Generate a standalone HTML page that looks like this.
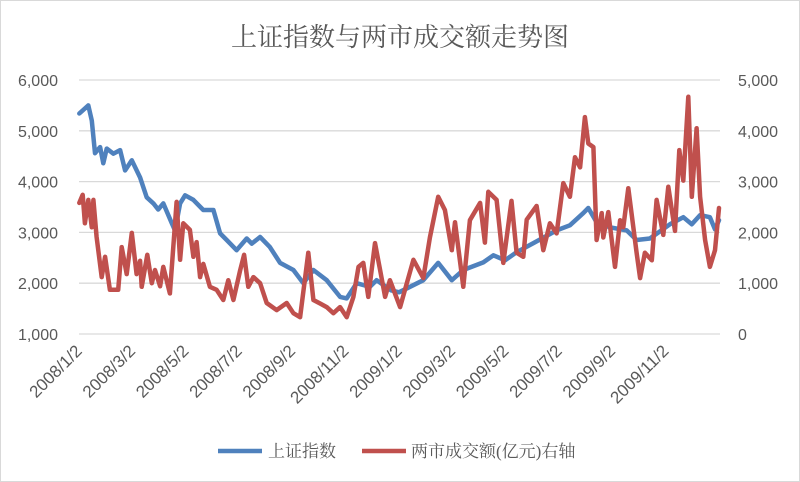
<!DOCTYPE html>
<html><head><meta charset="utf-8"><style>
html,body{margin:0;padding:0;background:#fff;}
svg{display:block;font-family:"Liberation Sans","Noto Sans CJK SC",sans-serif;}
.serif{font-family:"Liberation Serif","Noto Serif CJK SC",serif;}
</style></head><body>
<svg id="chart" width="800" height="482" viewBox="0 0 800 482">
<rect x="0.5" y="0.5" width="799" height="481" fill="#fff" stroke="#d9d9d9"/>
<text class="serif" x="400" y="46" text-anchor="middle" font-size="26" fill="#595959">上证指数与两市成交额走势图</text>
<g id="grid"></g><g id="yl"></g><g id="yr"></g><g id="xl"></g><g id="series"></g>
<g>
<line x1="218" y1="451" x2="262" y2="451" stroke="#4f81bd" stroke-width="4.5"/>
<text class="serif" x="268" y="457" font-size="17" fill="#595959">上证指数</text>
<line x1="362" y1="451" x2="406" y2="451" stroke="#c0504d" stroke-width="4.5"/>
<text class="serif" x="411" y="457" font-size="17" fill="#595959">两市成交额(亿元)右轴</text>
</g>
</svg>
<script>
const leftTicks=[1000,2000,3000,4000,5000,6000];
const leftLabels=["1,000","2,000","3,000","4,000","5,000","6,000"];
const rightTicks=[0,1000,2000,3000,4000,5000];
const rightLabels=["0","1,000","2,000","3,000","4,000","5,000"];
const xTickMonths=[0,2,4,6,8,10,12,14,16,18,20,22];
const xTickLabels=["2008/1/2","2008/3/2","2008/5/2","2008/7/2","2008/9/2","2008/11/2","2009/1/2","2009/3/2","2009/5/2","2009/7/2","2009/9/2","2009/11/2"];
const indexT=[0.01,0.35,0.48,0.6,0.79,0.91,1.04,1.29,1.54,1.73,1.98,2.29,2.54,2.79,2.97,3.16,3.48,3.6,3.79,3.98,4.29,4.66,5.04,5.29,5.54,5.91,6.29,6.48,6.79,7.16,7.54,8.04,8.41,8.79,9.29,9.79,10.04,10.41,10.91,11.16,11.7,12.0,12.91,13.47,13.98,14.41,15.16,15.54,15.98,16.41,17.04,17.91,18.41,18.91,19.1,19.41,19.91,20.54,20.91,21.41,22.16,22.66,22.98,23.29,23.66,23.85,24.0];
const indexV=[5340,5500,5200,4560,4680,4360,4650,4550,4620,4220,4420,4080,3690,3570,3450,3570,3180,3040,3570,3730,3640,3440,3440,2980,2850,2650,2880,2780,2910,2710,2400,2260,2000,2260,2060,1730,1700,2000,1930,2060,1860,1820,2060,2400,2060,2260,2410,2550,2450,2610,2790,3040,3140,3380,3480,3200,3100,3040,2850,2880,3160,3300,3160,3340,3300,3060,3240];
const volT=[0.01,0.14,0.22,0.35,0.48,0.54,0.66,0.85,0.98,1.16,1.47,1.6,1.79,1.98,2.16,2.29,2.35,2.56,2.73,2.85,3.04,3.16,3.41,3.66,3.79,3.91,4.16,4.29,4.41,4.54,4.66,4.91,5.16,5.41,5.6,5.79,6.04,6.19,6.35,6.54,6.79,7.04,7.41,7.79,8.04,8.29,8.6,8.79,9.04,9.29,9.54,9.79,10.04,10.29,10.48,10.66,10.85,11.1,11.29,11.48,11.66,12.04,12.54,12.91,13.16,13.47,13.72,13.98,14.1,14.41,14.66,15.04,15.22,15.35,15.66,15.91,16.22,16.41,16.66,16.79,17.16,17.41,17.66,17.91,18.16,18.41,18.6,18.79,18.97,19.1,19.29,19.41,19.6,19.66,19.85,20.1,20.29,20.41,20.6,20.91,21.04,21.22,21.48,21.66,21.91,22.1,22.35,22.51,22.66,22.85,22.98,23.16,23.29,23.48,23.66,23.85,24.0];
const volV=[2580,2740,2180,2640,2100,2640,1910,1120,1520,870,870,1710,1180,1990,1180,1440,930,1560,1000,1260,940,1320,800,2600,1460,2180,2050,1520,1810,1120,1380,930,870,670,1060,670,1250,1560,930,1120,1000,610,470,610,410,330,1600,670,600,530,410,530,330,730,1320,1400,730,1790,1260,730,1060,530,1460,1100,1900,2700,2440,1650,2200,930,2240,2580,1800,2800,2640,1400,2620,1600,1520,2250,2520,1650,2180,1980,2970,2700,3480,3280,4270,3750,3680,1850,2380,1900,2400,1320,2240,2100,2870,1600,1100,1600,1450,2640,1950,2900,2030,3620,3020,4670,2700,4050,2700,1850,1320,1650,2480];

const NS="http://www.w3.org/2000/svg";
const X0=79,X1=719,YT=80,YB=334;
const xs=t=>X0+t/24*(X1-X0);
const yL=v=>YB-(v-1000)/5000*(YB-YT);
const yR=v=>YB-v/5000*(YB-YT);
function mk(tag,attrs,parent){const e=document.createElementNS(NS,tag);for(const k in attrs)e.setAttribute(k,attrs[k]);document.getElementById(parent).appendChild(e);return e;}
leftTicks.forEach((v,i)=>{
  const g=mk('line',{x1:X0,x2:X1+1,y1:yL(v),y2:yL(v),stroke:'#d9d9d9','stroke-width':1.3},'grid');
  
  
  const t=mk('text',{x:58,y:yL(v)+6,'text-anchor':'end','font-size':16,fill:'#595959'},'yl');
  t.textContent=leftLabels[i];
  
  
});
rightTicks.forEach((v,i)=>{
  const t=mk('text',{x:738,y:yR(v)+6,'font-size':16,fill:'#595959'},'yr');
  t.textContent=rightLabels[i];
  
  
});
xTickMonths.forEach((m,i)=>{
  const x=xs(m)+4,y=352;
  const t=mk('text',{x:x,y:y,'text-anchor':'end','font-size':17,fill:'#595959',transform:`rotate(-45 ${x} ${y})`},'xl');
  t.textContent=xTickLabels[i];
  
  
});
function line(T,V,yf,color,name){
  const d=T.map((t,i)=>(i?'L':'M')+xs(t).toFixed(1)+','+yf(V[i]).toFixed(1)).join('');
  const p=mk('path',{d:d,fill:'none',stroke:color,'stroke-width':4.5,'stroke-linejoin':'round','stroke-linecap':'round'},'series');
  
  
}
line(indexT,indexV,yL,'#4f81bd','series-index-line');
line(volT,volV,yR,'#c0504d','series-volume-line');
</script>
</body></html>
